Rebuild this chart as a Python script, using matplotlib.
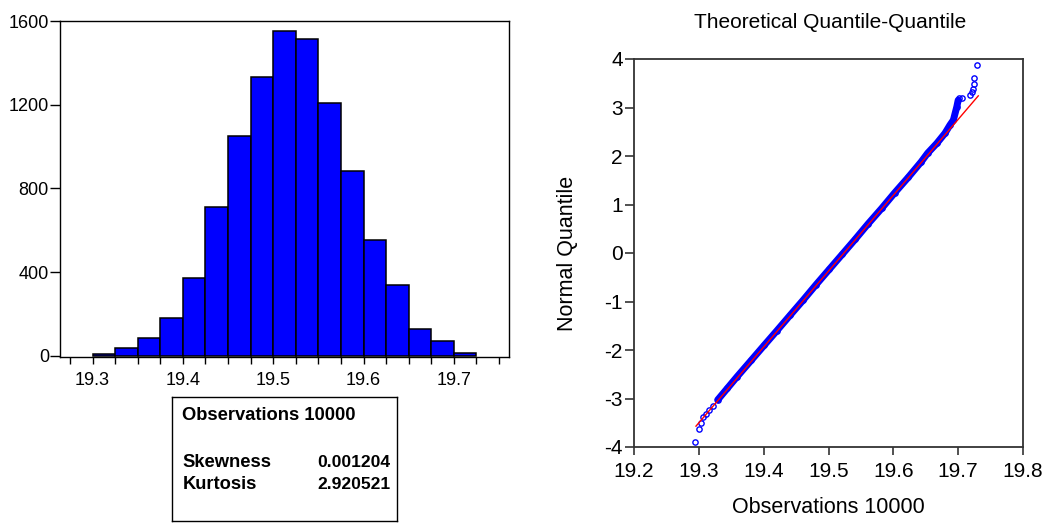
import matplotlib
matplotlib.use("Agg")
import matplotlib.pyplot as plt
import numpy as np

plt.rcParams['font.family'] = ['Liberation Sans', 'DejaVu Sans']
plt.rcParams['axes.unicode_minus'] = False

# ---------------- data ----------------
bin_left = [19.300, 19.325, 19.350, 19.375, 19.400, 19.425, 19.450, 19.475,
            19.500, 19.525, 19.550, 19.575, 19.600, 19.625, 19.650, 19.675, 19.700]
bin_counts = [10, 35, 83, 179, 370, 710, 1051, 1332,
              1552, 1514, 1206, 883, 554, 336, 130, 71, 11]
bin_width = 0.025

hist_xticks = [19.3, 19.4, 19.5, 19.6, 19.7]
hist_yticks = [0, 400, 800, 1200, 1600]

n_obs = 10000
skewness = "0.001204"
kurtosis = "2.920521"

# QQ plot: dense central band (observation, normal quantile)
band_obs = [19.329, 19.344, 19.359, 19.381, 19.401, 19.4205, 19.441, 19.461,
            19.481, 19.501, 19.521, 19.541, 19.561, 19.582, 19.602, 19.623,
            19.643, 19.653, 19.667, 19.6797, 19.6874, 19.6926, 19.698, 19.700]
band_q = [-3.03, -2.79, -2.55, -2.21, -1.90, -1.60, -1.28, -0.97,
          -0.65, -0.34, -0.03, 0.28, 0.60, 0.92, 1.24, 1.56,
          1.88, 2.06, 2.26, 2.47, 2.64, 2.74, 3.02, 3.15]
# QQ plot: sparse tail points
tail_obs = [19.2941, 19.3008, 19.3030, 19.3060, 19.3110, 19.3160, 19.3223,
            19.7010, 19.7065, 19.7190, 19.7220, 19.7234, 19.7250, 19.7250, 19.7286]
tail_q = [-3.89, -3.62, -3.51, -3.39, -3.31, -3.24, -3.155,
          3.19, 3.20, 3.26, 3.31, 3.38, 3.48, 3.61, 3.88]
# reference line endpoints
ref_obs = [19.2956, 19.731]
ref_q = [-3.57, 3.24]

qq_xticks = [19.2, 19.3, 19.4, 19.5, 19.6, 19.7, 19.8]
qq_yticks = [-4, -3, -2, -1, 0, 1, 2, 3, 4]

# ---------------- figure ----------------
W, H = 1048, 524
fig = plt.figure(figsize=(W / 100, H / 100), dpi=100)


def frac(l, t, r, b):
    return [l / W, 1 - b / H, (r - l) / W, (b - t) / H]


BLUE = (0, 0, 1)

# Histogram
axh = fig.add_axes(frac(60, 21, 509, 357))
axh.bar(bin_left, bin_counts, width=bin_width, align='edge',
        color=BLUE, edgecolor='black', linewidth=1.1)
axh.set_xlim(19.2639, 19.7611)
axh.set_ylim(-6, 1600)
axh.set_xticks(hist_xticks)
axh.set_xticklabels([f"{v:.1f}" for v in hist_xticks])
axh.set_xticks(np.round(np.arange(19.275, 19.76, 0.025), 3), minor=True)
axh.set_yticks(hist_yticks)
axh.tick_params(axis='x', which='both', direction='out', length=5, width=1,
                pad=6, labelsize=13)
axh.tick_params(axis='y', direction='out', length=7, width=1, pad=1,
                labelsize=13)
for s in axh.spines.values():
    s.set_linewidth(1.0)
    s.set_color('black')

# Stats box
axs = fig.add_axes(frac(172, 397, 397, 521))
axs.set_xticks([])
axs.set_yticks([])
for s in axs.spines.values():
    s.set_linewidth(1.0)
    s.set_color('black')
FS = 13.2
axs.text(0.046, 0.853, f"Observations {n_obs}", transform=axs.transAxes,
         fontsize=FS, fontweight='bold', ha='left', va='center')
axs.text(0.046, 0.475, "Skewness", transform=axs.transAxes,
         fontsize=FS, fontweight='bold', ha='left', va='center')
axs.text(0.969, 0.475, skewness, transform=axs.transAxes,
         fontsize=FS - 0.6, fontweight='bold', ha='right', va='center')
axs.text(0.046, 0.298, "Kurtosis", transform=axs.transAxes,
         fontsize=FS, fontweight='bold', ha='left', va='center')
axs.text(0.969, 0.298, kurtosis, transform=axs.transAxes,
         fontsize=FS - 0.6, fontweight='bold', ha='right', va='center')

# QQ plot
axq = fig.add_axes(frac(634, 59, 1023, 447))
axq.plot(band_obs, band_q, color=BLUE, linewidth=5, solid_capstyle='round',
         zorder=2)
axq.plot(band_obs + tail_obs, band_q + tail_q, linestyle='none', marker='o',
         markersize=3.8, markerfacecolor='none', markeredgecolor=BLUE,
         markeredgewidth=1.0, zorder=3)
axq.plot(ref_obs, ref_q, color='red', linewidth=1.0, zorder=4)
axq.set_xlim(19.2, 19.8)
axq.set_ylim(-4, 4)
axq.set_xticks(qq_xticks)
axq.set_xticklabels([f"{v:.1f}" for v in qq_xticks])
axq.set_yticks(qq_yticks)
axq.tick_params(axis='x', direction='out', length=6, width=1.2, pad=5,
                labelsize=15, colors='#333333', labelcolor='black')
axq.tick_params(axis='y', direction='out', length=6.5, width=1.2, pad=1.5,
                labelsize=15, colors='#333333', labelcolor='black')
for s in axq.spines.values():
    s.set_linewidth(1.3)
    s.set_color('#333333')
axq.set_xlabel(f"Observations {n_obs}", fontsize=15.5, va='center')
axq.xaxis.set_label_coords(0.5, -0.157)
axq.set_ylabel("Normal Quantile", fontsize=15.5, va='center')
axq.yaxis.set_label_coords(-0.172, 0.5)
axq.text(0.504, 1.095, "Theoretical Quantile-Quantile", transform=axq.transAxes,
         fontsize=15, ha='center', va='center')

fig.savefig("out.png", dpi=100)
